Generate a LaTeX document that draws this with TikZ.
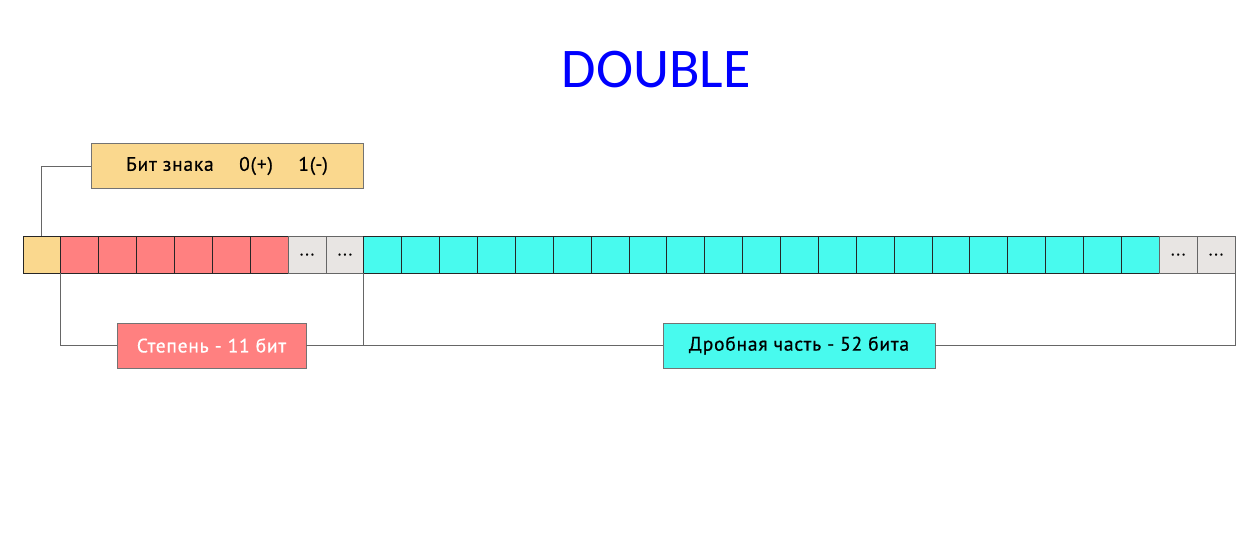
\documentclass[tikz,border=0pt]{standalone}
\usepackage{fontspec}
\setmainfont{PT Sans}
\newfontfamily\titlefont{Carlito}
\newfontfamily\lblfont[LetterSpace=4,FakeBold=0.6]{PT Sans}
\usetikzlibrary{positioning,calc}

\definecolor{signc}{RGB}{250,216,142}
\definecolor{expc}{RGB}{255,128,128}
\definecolor{fracc}{RGB}{72,250,238}
\definecolor{dotc}{RGB}{232,229,227}
\definecolor{titlec}{RGB}{0,0,255}

\begin{document}
\begin{tikzpicture}[
      x=1pt, y=-1pt,
      cell/.style={draw=black!85,line width=0.8pt,minimum width=37.875pt,minimum height=37pt,inner sep=0pt,outer sep=0pt},
      signcell/.style={cell,fill=signc},
      expcell/.style={cell,fill=expc},
      fraccell/.style={cell,fill=fracc},
      dotcell/.style={cell,fill=dotc,draw=black!60,font=\lblfont\fontsize{17}{17}\selectfont,text depth=-4pt},
      lblbox/.style={draw=black!55,line width=0.8pt,minimum height=45pt,inner sep=0pt,font=\lblfont\fontsize{19.5}{20}\selectfont},
      conn/.style={draw=black!60,line width=0.9pt},
    ]
    \useasboundingbox (0,0) rectangle (1260,557);
    % title
    \node[font=\titlefont\fontsize{56}{56}\selectfont,text=titlec] (title) at (656,70) {DOUBLE};
    % bit cells
    \foreach \i in {1,...,32}{
      \ifnum\i=1 \def\cs{signcell}\def\ct{}\fi
      \ifnum\i>1 \def\cs{expcell}\def\ct{}\fi
      \ifnum\i>7 \def\cs{dotcell}\def\ct{...}\fi
      \ifnum\i>9 \def\cs{fraccell}\def\ct{}\fi
      \ifnum\i>30 \def\cs{dotcell}\def\ct{...}\fi
      \node[\cs] (c\i) at ({23+(\i-0.5)*37.875},254.5) {\ct};
    }
    % labels
    \node[lblbox,fill=signc,minimum width=272pt] (sign) at (227,166) {Бит знака\quad\ 0(+)\quad\ 1(-)};
    \node[lblbox,fill=expc,minimum width=189pt,text=white] (exp) at (211.5,345.5) {Степень - 11 бит};
    \node[lblbox,fill=fracc,minimum width=272pt] (frac) at (799,345.5) {Дробная часть - 52 бита};
    % connectors
    \draw[conn] (c1.north) |- (sign.west);
    \draw[conn] (c2.south west) |- (exp.west);
    \draw[conn] (exp.east) -| (c9.south east);
    \draw[conn] (c10.south west) |- (frac.west);
    \draw[conn] (frac.east) -| (c32.south east);
  \end{tikzpicture}
\end{document}
